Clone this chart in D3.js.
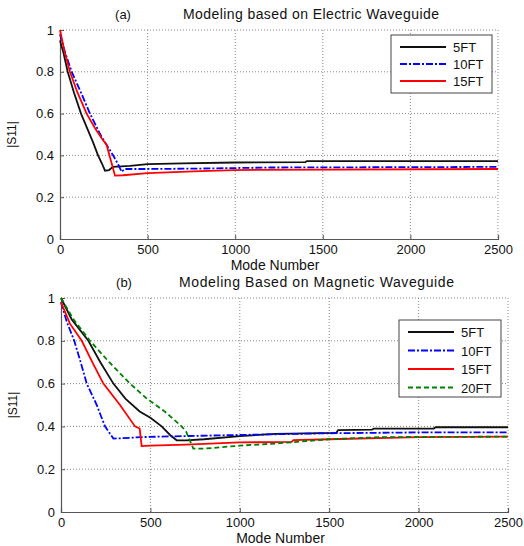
<!DOCTYPE html>
<html>
<head>
<meta charset="utf-8">
<script src="https://cdn.jsdelivr.net/npm/d3@7"></script>
<style>
  body { margin: 0; background: #fff; }
  text { font-family: "Liberation Sans", Arial, sans-serif; fill: #111; }
</style>
</head>
<body>
<div id="chart"></div>
<script>
// tick values
var xTicks = [0, 500, 1000, 1500, 2000, 2500];
var yTicks = [0, 0.2, 0.4, 0.6, 0.8, 1];

// (a) electric waveguide: [mode number, |S11|]
var a5FT = [[0,0.95],[20,0.89],[44,0.8],[80,0.7],[120,0.6],[160,0.52],[190,0.46],[217,0.4],[240,0.36],[257,0.327],[280,0.33],[302,0.345],[400,0.35],[500,0.358],[700,0.362],[1000,0.366],[1400,0.368],[1410,0.373],[2500,0.373]];
var a10FT = [[0,0.98],[30,0.89],[67,0.8],[120,0.7],[171,0.6],[230,0.5],[303,0.4],[330,0.36],[352,0.322],[370,0.335],[500,0.335],[800,0.337],[1200,0.342],[2500,0.345]];
var a15FT = [[0,1.0],[25,0.9],[57,0.8],[100,0.7],[152,0.6],[200,0.53],[240,0.48],[266,0.45],[314,0.303],[360,0.305],[500,0.315],[800,0.325],[1000,0.33],[2500,0.335]];

// (b) magnetic waveguide
var b5FT = [[0,1.0],[60,0.9],[153,0.8],[220,0.7],[293,0.6],[360,0.53],[440,0.47],[500,0.44],[563,0.4],[610,0.36],[647,0.335],[700,0.335],[800,0.34],[1000,0.355],[1200,0.365],[1540,0.37],[1550,0.383],[1740,0.385],[1750,0.39],[2085,0.39],[2095,0.396],[2500,0.396]];
var b10FT = [[0,0.98],[32,0.89],[74,0.8],[110,0.7],[144,0.6],[200,0.5],[246,0.4],[293,0.343],[350,0.345],[450,0.35],[700,0.355],[1000,0.36],[1500,0.368],[2000,0.372],[2500,0.372]];
var b15FT = [[0,0.98],[50,0.88],[116,0.8],[175,0.7],[237,0.6],[330,0.5],[414,0.4],[440,0.39],[451,0.308],[500,0.31],[700,0.315],[1000,0.325],[1290,0.328],[1300,0.336],[1500,0.34],[2000,0.35],[2500,0.352]];
var b20FT = [[0,1.0],[70,0.9],[162,0.8],[270,0.7],[386,0.6],[480,0.53],[580,0.47],[675,0.4],[700,0.375],[740,0.296],[800,0.296],[1000,0.31],[1200,0.32],[1500,0.34],[1800,0.35],[2500,0.352]];

var labels = ["5FT", "10FT", "15FT", "20FT"];
var colors = ["#111", "#0000ff", "#ff0000", "#008000"];
var dashes = [null, "7,2,2,2", null, "5,3"];

var svg = d3.select("#chart").append("svg")
    .attr("width", 524)
    .attr("height", 546);

function drawPanel(box, tag, title, series, legendBox) {
    var g = svg.append("g").attr("transform", `translate(${box.left}, ${box.top})`);

    var x = d3.scaleLinear().domain([0, 2500]).range([0, box.width]);
    var y = d3.scaleLinear().domain([0, 1]).range([box.height, 0]);

    // grid
    g.selectAll(".gx").data(xTicks.slice(1, -1)).enter().append("line")
        .attr("x1", d => x(d)).attr("x2", d => x(d))
        .attr("y1", 0).attr("y2", box.height)
        .attr("stroke", "#888").attr("stroke-dasharray", "1,2");
    g.selectAll(".gy").data(yTicks.slice(1, -1)).enter().append("line")
        .attr("x1", 0).attr("x2", box.width)
        .attr("y1", d => y(d)).attr("y2", d => y(d))
        .attr("stroke", "#888").attr("stroke-dasharray", "1,2");
    // dotted top / right frame
    g.append("path")
        .attr("d", `M0,0H${box.width}V${box.height}`)
        .attr("fill", "none").attr("stroke", "#888").attr("stroke-dasharray", "1,2");

    // axes
    var xAxis = g.append("g")
        .attr("transform", `translate(0, ${box.height})`)
        .call(d3.axisBottom(x).tickValues(xTicks).tickSize(-4).tickPadding(6).tickFormat(d3.format("d")));
    var yAxis = g.append("g")
        .call(d3.axisLeft(y).tickValues(yTicks).tickSize(-4).tickPadding(6).tickFormat(d => d));
    [xAxis, yAxis].forEach(function (a) {
        a.select(".domain").attr("stroke", "#555").attr("stroke-width", 1.2);
        a.selectAll(".tick line").attr("stroke", "#555");
        a.selectAll("text").attr("font-size", 13).attr("fill", "#111")
            .style("font-family", "Liberation Sans, Arial, sans-serif");
    });

    // lines
    var line = d3.line().x(d => x(d[0])).y(d => y(d[1]));
    series.forEach(function (s, i) {
        g.append("path")
            .datum(s)
            .attr("d", line)
            .attr("fill", "none")
            .attr("stroke", colors[i])
            .attr("stroke-width", 1.8)
            .attr("stroke-dasharray", dashes[i]);
    });

    // titles
    g.append("text").attr("x", 63).attr("y", -11).attr("text-anchor", "middle")
        .attr("font-size", 13).text(tag);
    g.append("text").attr("x", (title.x0 - box.left)).attr("y", -11)
        .attr("font-size", 14).attr("textLength", title.len).text(title.text);
    g.append("text").attr("x", box.width / 2 - 4).attr("y", box.height + 31)
        .attr("text-anchor", "middle").attr("font-size", 14).text("Mode Number");
    g.append("text").attr("transform", `translate(${-44}, ${box.height / 2}) rotate(-90)`)
        .attr("text-anchor", "middle").attr("font-size", 12).text("|S11|");

    // legend
    var lg = svg.append("g").attr("transform", `translate(${legendBox.x}, ${legendBox.y})`);
    lg.append("rect").attr("width", legendBox.w).attr("height", legendBox.h)
        .attr("fill", "#fff").attr("stroke", "#444");
    series.forEach(function (s, i) {
        var ry = 12 + i * legendBox.step;
        lg.append("line").attr("x1", 9).attr("x2", 55).attr("y1", ry).attr("y2", ry)
            .attr("stroke", colors[i]).attr("stroke-width", 2)
            .attr("stroke-dasharray", dashes[i]);
        lg.append("text").attr("x", 62).attr("y", ry + 5).attr("font-size", 13).text(labels[i]);
    });
}

drawPanel({left: 60, top: 30, width: 438, height: 209}, "(a)",
    {text: "Modeling based on Electric Waveguide", x0: 183, len: 256},
    [a5FT, a10FT, a15FT],
    {x: 391, y: 35, w: 101, h: 58, step: 17});

drawPanel({left: 61, top: 298, width: 447, height: 214}, "(b)",
    {text: "Modeling Based on Magnetic Waveguide", x0: 179, len: 275},
    [b5FT, b10FT, b15FT, b20FT],
    {x: 399, y: 320, w: 102, h: 77, step: 18.5});
</script>
</body>
</html>
